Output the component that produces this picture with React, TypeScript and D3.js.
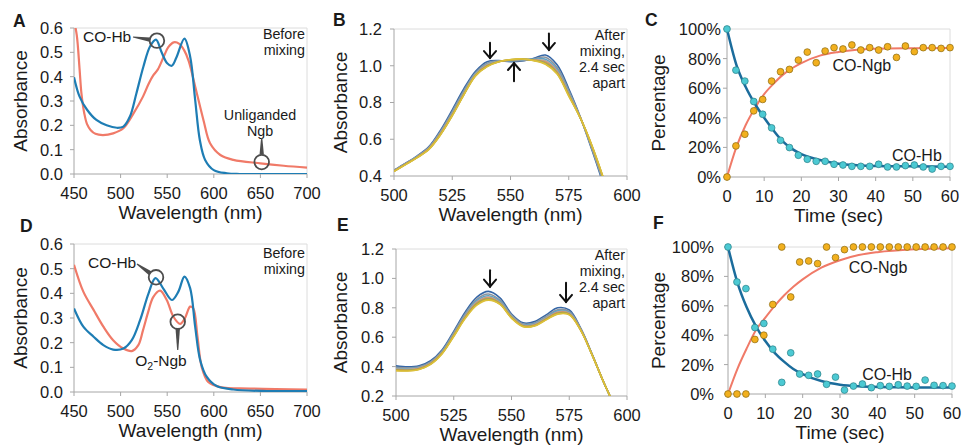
import React from "react";
import * as d3 from "d3";

// ---- A: spectra before mixing (CO-Hb vs unliganded Ngb)
const coHbA_nm = [450, 456, 464, 474, 485, 496, 503, 510, 517, 524.5, 531.7, 538, 544, 550, 555, 560, 568.5, 574.6, 580, 585, 590.7, 600, 614, 628, 700];
const coHbA_abs = [0.398, 0.318, 0.264, 0.222, 0.2, 0.19, 0.195, 0.236, 0.332, 0.442, 0.525, 0.552, 0.5, 0.455, 0.445, 0.48, 0.556, 0.483, 0.305, 0.14, 0.058, 0.016, 0.003, 0.0, 0.0];
const ngbA_nm = [450, 453, 456, 458, 461, 464, 468, 473, 481, 492, 503, 514, 524, 530, 535, 540, 546, 551, 557, 563, 568, 573, 580, 589, 596, 607, 621, 650, 675, 700];
const ngbA_abs = [0.63, 0.57, 0.43, 0.33, 0.25, 0.205, 0.18, 0.165, 0.16, 0.167, 0.188, 0.25, 0.318, 0.37, 0.405, 0.43, 0.48, 0.52, 0.541, 0.535, 0.51, 0.465, 0.36, 0.22, 0.126, 0.078, 0.058, 0.044, 0.034, 0.026];

// ---- D: spectra before mixing (CO-Hb vs O2-Ngb)
const coHbD_nm = [450, 460, 471, 481.5, 492, 503, 512, 521, 530, 537.4, 546, 555, 562, 568.5, 574.6, 580, 585.4, 592.5, 603, 621, 657, 700];
const coHbD_abs = [0.339, 0.265, 0.224, 0.19, 0.172, 0.176, 0.21, 0.292, 0.4, 0.462, 0.418, 0.373, 0.407, 0.468, 0.421, 0.265, 0.129, 0.061, 0.024, 0.01, 0.004, 0.004];
const o2NgbD_nm = [450, 460, 471, 481.5, 492, 503, 512, 519, 524, 530, 535, 542.4, 549.5, 556.7, 563.9, 569, 574.6, 578, 582.5, 587, 594, 607, 639, 700];
const o2NgbD_abs = [0.516, 0.407, 0.333, 0.265, 0.21, 0.176, 0.166, 0.19, 0.25, 0.33, 0.385, 0.411, 0.373, 0.305, 0.276, 0.299, 0.346, 0.339, 0.224, 0.102, 0.041, 0.02, 0.014, 0.01];

// ---- B: spectra after mixing (CO-Hb + unliganded Ngb), 2.4 s apart
const nmB = [500, 505, 510, 515, 520, 525, 530, 535, 540, 545, 550, 555, 560, 565, 570, 575, 580, 585, 590];
const specB = [
  [0.432, 0.47, 0.51, 0.56, 0.65, 0.76, 0.875, 0.97, 1.022, 1.028, 1.022, 1.026, 1.04, 1.058, 1.005, 0.875, 0.72, 0.54, 0.35],
  [0.43, 0.468, 0.508, 0.556, 0.643, 0.75, 0.865, 0.962, 1.014, 1.026, 1.026, 1.029, 1.037, 1.046, 0.99, 0.865, 0.718, 0.546, 0.36],
  [0.429, 0.467, 0.506, 0.553, 0.638, 0.743, 0.858, 0.957, 1.009, 1.025, 1.028, 1.032, 1.035, 1.036, 0.98, 0.857, 0.717, 0.551, 0.367],
  [0.428, 0.466, 0.504, 0.551, 0.634, 0.738, 0.852, 0.953, 1.005, 1.024, 1.03, 1.034, 1.033, 1.027, 0.972, 0.85, 0.716, 0.555, 0.372],
  [0.427, 0.465, 0.503, 0.549, 0.631, 0.734, 0.848, 0.95, 1.001, 1.023, 1.031, 1.035, 1.031, 1.02, 0.966, 0.845, 0.716, 0.558, 0.377],
  [0.426, 0.464, 0.502, 0.547, 0.628, 0.731, 0.845, 0.948, 0.999, 1.023, 1.032, 1.036, 1.03, 1.015, 0.961, 0.841, 0.715, 0.561, 0.38],
  [0.425, 0.463, 0.501, 0.546, 0.626, 0.729, 0.843, 0.946, 0.997, 1.022, 1.033, 1.037, 1.029, 1.011, 0.958, 0.838, 0.715, 0.563, 0.383],
  [0.425, 0.462, 0.5, 0.545, 0.625, 0.728, 0.842, 0.945, 0.995, 1.022, 1.034, 1.037, 1.028, 1.008, 0.955, 0.835, 0.715, 0.565, 0.385],
];

// ---- E: spectra after mixing (CO-Hb + O2-Ngb), 2.4 s apart
const nmE = [500, 505, 510, 515, 520, 525, 530, 535, 540, 545, 550, 555, 560, 565, 570, 575, 580, 585, 590, 595];
const specE = [
  [0.405, 0.398, 0.405, 0.44, 0.515, 0.64, 0.772, 0.873, 0.912, 0.868, 0.758, 0.698, 0.706, 0.752, 0.8, 0.785, 0.66, 0.48, 0.29, 0.12],
  [0.395, 0.39, 0.398, 0.432, 0.507, 0.63, 0.76, 0.858, 0.894, 0.852, 0.75, 0.69, 0.697, 0.742, 0.787, 0.775, 0.656, 0.479, 0.29, 0.12],
  [0.389, 0.385, 0.393, 0.427, 0.501, 0.623, 0.752, 0.848, 0.882, 0.843, 0.745, 0.685, 0.692, 0.735, 0.779, 0.769, 0.653, 0.478, 0.29, 0.12],
  [0.384, 0.381, 0.39, 0.424, 0.497, 0.618, 0.745, 0.84, 0.873, 0.836, 0.74, 0.681, 0.687, 0.73, 0.772, 0.764, 0.651, 0.477, 0.29, 0.12],
  [0.38, 0.377, 0.387, 0.421, 0.494, 0.614, 0.74, 0.833, 0.866, 0.832, 0.737, 0.678, 0.683, 0.726, 0.767, 0.76, 0.649, 0.477, 0.29, 0.12],
  [0.377, 0.375, 0.384, 0.419, 0.492, 0.611, 0.736, 0.828, 0.861, 0.828, 0.735, 0.676, 0.68, 0.723, 0.763, 0.757, 0.648, 0.476, 0.29, 0.12],
  [0.374, 0.372, 0.382, 0.417, 0.49, 0.608, 0.732, 0.823, 0.856, 0.825, 0.732, 0.674, 0.678, 0.72, 0.76, 0.754, 0.646, 0.476, 0.29, 0.12],
  [0.372, 0.37, 0.38, 0.415, 0.488, 0.605, 0.728, 0.818, 0.852, 0.823, 0.73, 0.672, 0.676, 0.718, 0.757, 0.752, 0.645, 0.475, 0.29, 0.12],
];
const specColors = ["#3566a6", "#8c939c", "#5fa3c7", "#b0a9a0", "#e4875a", "#8fae6a", "#c4a22c", "#dcc03a"];

// ---- C / F: kinetics (percentage vs time)
const timeSec = [0, 2.4, 4.8, 7.2, 9.6, 12, 14.4, 16.8, 19.2, 21.6, 24, 26.4, 28.8, 31.2, 33.6, 36, 38.4, 40.8, 43.2, 45.6, 48, 50.4, 52.8, 55.2, 57.6, 60];
const coHbC = [100, 72.2, 64.8, 51, 42.4, 33.2, 24.8, 19.9, 14.7, 12, 10.6, 10.6, 8.6, 8.1, 7.2, 7.2, 7.2, 8.6, 6.8, 6.8, 7.7, 8.1, 6.8, 5.4, 7.2, 7.2];
const coNgbC = [0, 21, 28.9, 44.7, 52.4, 64.8, 71.1, 72.7, 79, 84.4, 77.2, 85.1, 87.4, 86.5, 89.2, 85.8, 87.4, 85.8, 88, 80.8, 88.5, 84.7, 87.4, 87.4, 86.9, 87.4];
const coHbF = [100, 76.2, 71.7, 45.2, 48, 30.5, 7.9, 28, 13.6, 12.7, 13.6, 6.6, 11.5, 2.7, 5.4, 6.8, 4.3, 5.7, 5.2, 6.3, 5.4, 5.2, 9.5, 5.9, 5.7, 5.4];
const coNgbF = [0, 0, 0, 37.1, 40, 60.9, 100, 66, 89.8, 90.5, 88.7, 100, 92.8, 98.2, 100, 100, 100, 100, 100, 100, 100, 100, 100, 100, 100, 100];

const fitTime = [0, 2.5, 5, 7.5, 10, 12.5, 15, 17.5, 20, 25, 30, 35, 40, 50, 60];
const fitHbC = [100, 76, 61, 49.5, 40, 31.5, 24, 19, 15.5, 11.5, 9, 8, 7.5, 7.2, 7];
const fitNgbC = [0, 20, 35, 46.5, 56, 63, 69, 73.5, 77, 82, 84.5, 86, 86.6, 87, 87.2];
const fitHbF = [100, 76, 59, 46, 36, 28, 22, 17, 13.5, 8.8, 6.3, 5.2, 4.8, 4.5, 4.5];
const fitNgbF = [0, 17, 31, 43.5, 52, 60, 67, 73, 78, 86, 91, 94.5, 96.5, 98.5, 99.2];

const nmTicksWide = [450, 500, 550, 600, 650, 700];
const nmTicksNarrow = [500, 525, 550, 575, 600];
const absTicksAD = [0, 0.1, 0.2, 0.3, 0.4, 0.5, 0.6];
const absTicksB = [0.4, 0.6, 0.8, 1.0, 1.2];
const absTicksE = [0.2, 0.4, 0.6, 0.8, 1.0, 1.2];
const timeTicks = [0, 10, 20, 30, 40, 50, 60];
const pctTicks = [0, 20, 40, 60, 80, 100];

const FONT = "'Liberation Sans', Arial, Helvetica, sans-serif";
const AXIS = "#a6a6a6";
const FRAME = "#dcdcdc";
const TXT = "#1a1a1a";
const BLUE = "#1e7db4";
const RED = "#f07a68";
const FIT_BLUE = "#1b6c9c";
const CALLOUT = "#4d4d4d";

type Lin = d3.ScaleLinear<number, number>;

const zip = (xs: number[], ys: number[]) => xs.map((v, i) => [v, ys[i]] as [number, number]);

function Axes(p: {
  x: Lin; y: Lin; xTicks: number[]; yTicks: number[];
  xFmt: (v: number) => string; yFmt: (v: number) => string;
  xTitle: string; yTitle: string; yTitleX: number; yGap: number;
  letter: string; letterX: number; letterY: number;
}) {
  const { x, y } = p;
  const [l, r] = x.range();
  const [b, t] = y.range();
  return (
    <g fontFamily={FONT} fill={TXT}>
      <line x1={l} x2={r} y1={t} y2={t} stroke={FRAME} />
      <line x1={r} x2={r} y1={t} y2={b} stroke={FRAME} />
      <line x1={l} x2={r} y1={b} y2={b} stroke={AXIS} />
      <line x1={l} x2={l} y1={t} y2={b} stroke={AXIS} />
      {p.xTicks.map((v) => (
        <g key={"x" + v}>
          <line x1={x(v)} x2={x(v)} y1={b} y2={b + 4} stroke={AXIS} />
          <text x={x(v)} y={b + 25} textAnchor="middle" fontSize={16.5}>{p.xFmt(v)}</text>
        </g>
      ))}
      {p.yTicks.map((v) => (
        <g key={"y" + v}>
          <line x1={l - 4} x2={l} y1={y(v)} y2={y(v)} stroke={AXIS} />
          <text x={l - p.yGap} y={y(v)} dy="0.36em" textAnchor="end" fontSize={16.5}>{p.yFmt(v)}</text>
        </g>
      ))}
      <text x={(l + r) / 2} y={b + 45} textAnchor="middle" fontSize={19}>{p.xTitle}</text>
      <text transform={`translate(${p.yTitleX},${(t + b) / 2}) rotate(-90)`} textAnchor="middle" dy="0.36em" fontSize={19}>{p.yTitle}</text>
      <text x={p.letterX} y={p.letterY} fontWeight="bold" fontSize={17.5}>{p.letter}</text>
    </g>
  );
}

// circle marker with a tapered leader from (x1, y1)
function Callout({ cx, cy, x1, y1, r = 7.3 }: { cx: number; cy: number; x1: number; y1: number; r?: number }) {
  const dx = cx - x1, dy = cy - y1;
  const len = Math.hypot(dx, dy);
  const ux = dx / len, uy = dy / len;
  const ex = cx - ux * r, ey = cy - uy * r;
  const nx = -uy, ny = ux;
  const w0 = 0.6, w1 = 2.2;
  const pts = [
    [x1 + nx * w0, y1 + ny * w0], [ex + nx * w1, ey + ny * w1],
    [ex - nx * w1, ey - ny * w1], [x1 - nx * w0, y1 - ny * w0],
  ].map((q) => q.join(",")).join(" ");
  return (
    <g>
      <polygon points={pts} fill={CALLOUT} />
      <circle cx={cx} cy={cy} r={r} fill="none" stroke={CALLOUT} strokeWidth={1.8} />
    </g>
  );
}

function Arrow({ x, y1, y2 }: { x: number; y1: number; y2: number }) {
  const dir = y2 > y1 ? 1 : -1;
  return (
    <g stroke="#111" strokeWidth={2} fill="none" strokeLinecap="round" strokeLinejoin="miter">
      <line x1={x} x2={x} y1={y1} y2={y2} />
      <polyline points={`${x - 6},${y2 - dir * 7} ${x},${y2} ${x + 6},${y2 - dir * 7}`} />
    </g>
  );
}

// stacked lines as separate text elements
function Lines({ x, y, lines, size = 14.3, lh = 16, anchor = "end" }: { x: number; y: number; lines: string[]; size?: number; lh?: number; anchor?: string }) {
  return (
    <g fontFamily={FONT} fontSize={size} fill={TXT} textAnchor={anchor}>
      {lines.map((s, i) => (
        <text key={i} x={x} y={y + i * lh}>{s}</text>
      ))}
    </g>
  );
}

const fmt1 = d3.format(".1f");
const fmtInt = (v: number) => String(v);
const fmtPct = (v: number) => v + "%";

function spectrumLine(x: Lin, y: Lin) {
  return d3.line<[number, number]>().x((d) => x(d[0])).y((d) => y(d[1])).curve(d3.curveCatmullRom.alpha(0.5));
}

function BeforePanel(p: {
  id: string; top: number; bottom: number; letterX: number; letterY: number; letter: string;
  hbNm: number[]; hbAbs: number[]; ngbNm: number[]; ngbAbs: number[];
  render: (x: Lin, y: Lin) => React.ReactNode;
}) {
  const x = d3.scaleLinear().domain([450, 700]).range([74, 307]);
  const y = d3.scaleLinear().domain([0, 0.6]).range([p.bottom, p.top]);
  const line = spectrumLine(x, y);
  return (
    <g>
      <defs>
        <clipPath id={p.id}>
          <rect x={74} y={p.top} width={233} height={p.bottom - p.top} />
        </clipPath>
      </defs>
      <Axes x={x} y={y} xTicks={nmTicksWide} yTicks={absTicksAD} xFmt={fmtInt} yFmt={fmt1}
        xTitle="Wavelength (nm)" yTitle="Absorbance" yTitleX={20} yGap={11}
        letter={p.letter} letterX={p.letterX} letterY={p.letterY} />
      <g clipPath={`url(#${p.id})`} fill="none" strokeWidth={2.2}>
        <path d={line(zip(p.ngbNm, p.ngbAbs)) || ""} stroke={RED} />
        <path d={line(zip(p.hbNm, p.hbAbs)) || ""} stroke={BLUE} />
      </g>
      {p.render(x, y)}
    </g>
  );
}

function AfterPanel(p: {
  id: string; left: number; top: number; bottom: number; yMin: number; yTicks: number[];
  nm: number[]; spectra: number[][]; letter: string; letterX: number; letterY: number;
  render: (x: Lin, y: Lin) => React.ReactNode;
}) {
  const x = d3.scaleLinear().domain([500, 600]).range([p.left, 627]);
  const y = d3.scaleLinear().domain([p.yMin, 1.2]).range([p.bottom, p.top]);
  const line = spectrumLine(x, y);
  return (
    <g>
      <defs>
        <clipPath id={p.id}>
          <rect x={p.left} y={p.top} width={627 - p.left} height={p.bottom - p.top} />
        </clipPath>
      </defs>
      <Axes x={x} y={y} xTicks={nmTicksNarrow} yTicks={p.yTicks} xFmt={fmtInt} yFmt={fmt1}
        xTitle="Wavelength (nm)" yTitle="Absorbance" yTitleX={340} yGap={12}
        letter={p.letter} letterX={p.letterX} letterY={p.letterY} />
      <g clipPath={`url(#${p.id})`} fill="none" strokeWidth={1.6}>
        {p.spectra.map((s, i) => (
          <path key={i} d={line(zip(p.nm, s)) || ""} stroke={specColors[i]} />
        ))}
      </g>
      {p.render(x, y)}
    </g>
  );
}

function KineticsPanel(p: {
  left: number; right: number; top: number; bottom: number; yGap: number;
  hb: number[]; ngb: number[]; fitHb: number[]; fitNgb: number[];
  letter: string; letterX: number; letterY: number;
  ngbLabel: [number, number]; hbLabel: [number, number];
}) {
  const x = d3.scaleLinear().domain([0, 60]).range([p.left, p.right]);
  const y = d3.scaleLinear().domain([0, 100]).range([p.bottom, p.top]);
  const fit = d3.line<[number, number]>().x((d) => x(d[0])).y((d) => y(d[1])).curve(d3.curveMonotoneX);
  return (
    <g>
      <Axes x={x} y={y} xTicks={timeTicks} yTicks={pctTicks} xFmt={fmtInt} yFmt={fmtPct}
        xTitle="Time (sec)" yTitle="Percentage" yTitleX={658} yGap={p.yGap}
        letter={p.letter} letterX={p.letterX} letterY={p.letterY} />
      <path d={fit(zip(fitTime, p.fitNgb)) || ""} fill="none" stroke={RED} strokeWidth={2} />
      <path d={fit(zip(fitTime, p.fitHb)) || ""} fill="none" stroke={FIT_BLUE} strokeWidth={2.5} />
      {timeSec.map((t, i) => (
        <circle key={"n" + i} cx={x(t)} cy={y(p.ngb[i])} r={3.4} fill="#f2b01e" stroke="#8a6a14" strokeWidth={0.7} />
      ))}
      {timeSec.map((t, i) => (
        <circle key={"h" + i} cx={x(t)} cy={y(p.hb[i])} r={3.4} fill="#4cc9d3" stroke="#2b7f86" strokeWidth={0.7} />
      ))}
      <text x={x(p.ngbLabel[0])} y={y(p.ngbLabel[1])} dy="0.36em" textAnchor="middle" fontFamily={FONT} fontSize={16} fill={TXT}>CO-Ngb</text>
      <text x={x(p.hbLabel[0])} y={y(p.hbLabel[1])} dy="0.36em" textAnchor="middle" fontFamily={FONT} fontSize={16} fill={TXT}>CO-Hb</text>
    </g>
  );
}

export default function App() {
  return (
    <svg width={963} height={447} style={{ position: "absolute", left: 0, top: 0, background: "#fff" }}>
      <rect width={963} height={447} fill="#fff" />

      <BeforePanel id="clipA" top={28} bottom={174} letter="A" letterX={13} letterY={27}
        hbNm={coHbA_nm} hbAbs={coHbA_abs} ngbNm={ngbA_nm} ngbAbs={ngbA_abs}
        render={(x, y) => (
          <g>
            <text x={83} y={36} dy="0.36em" fontFamily={FONT} fontSize={15.5} fill={TXT}>CO-Hb</text>
            <Callout cx={x(539)} cy={y(0.548)} x1={133} y1={37} />
            <Lines x={305} y={39} lines={["Before", "mixing"]} />
            <Lines x={260} y={120} lines={["Unliganded", "Ngb"]} anchor="middle" />
            <Callout cx={x(651.4)} cy={y(0.049)} x1={x(651.4)} y1={138} />
          </g>
        )} />

      <BeforePanel id="clipD" top={244} bottom={392} letter="D" letterX={20} letterY={232}
        hbNm={coHbD_nm} hbAbs={coHbD_abs} ngbNm={o2NgbD_nm} ngbAbs={o2NgbD_abs}
        render={(x, y) => (
          <g>
            <text x={88} y={262} dy="0.36em" fontFamily={FONT} fontSize={15.5} fill={TXT}>CO-Hb</text>
            <Callout cx={x(538)} cy={y(0.465)} x1={137} y1={264} />
            <Lines x={305} y={258} lines={["Before", "mixing"]} />
            <text x={161} y={360} dy="0.36em" textAnchor="middle" fontFamily={FONT} fontSize={15.5} fill={TXT}>
              O<tspan fontSize={10.5} dy="4">2</tspan><tspan dy="-4">-Ngb</tspan>
            </text>
            <Callout cx={x(561.3)} cy={y(0.285)} x1={x(561.3)} y1={350} />
          </g>
        )} />

      <AfterPanel id="clipB" left={394} top={29} bottom={176} yMin={0.4} yTicks={absTicksB}
        nm={nmB} spectra={specB} letter="B" letterX={333} letterY={26}
        render={(x, y) => (
          <g>
            <Arrow x={x(541.2)} y1={y(1.125)} y2={y(1.042)} />
            <Arrow x={x(566.5)} y1={y(1.175)} y2={y(1.086)} />
            <Arrow x={x(551.5)} y1={y(0.915)} y2={y(1.015)} />
            <Lines x={625} y={40} lines={["After", "mixing,", "2.4 sec", "apart"]} />
          </g>
        )} />

      <AfterPanel id="clipE" left={396} top={249} bottom={396} yMin={0.2} yTicks={absTicksE}
        nm={nmE} spectra={specE} letter="E" letterX={337} letterY={231}
        render={(x, y) => (
          <g>
            <Arrow x={x(540.7)} y1={y(1.055)} y2={y(0.944)} />
            <Arrow x={x(573.6)} y1={y(0.97)} y2={y(0.84)} />
            <Lines x={625} y={259.5} lines={["After", "mixing,", "2.4 sec", "apart"]} />
          </g>
        )} />

      <KineticsPanel left={727} right={950} top={29} bottom={177} yGap={6}
        hb={coHbC} ngb={coNgbC} fitHb={fitHbC} fitNgb={fitNgbC}
        letter="C" letterX={645} letterY={26} ngbLabel={[36.3, 75.7]} hbLabel={[51.1, 14.9]} />

      <KineticsPanel left={728} right={952} top={247} bottom={394} yGap={14}
        hb={coHbF} ngb={coNgbF} fitHb={fitHbF} fitNgb={fitNgbF}
        letter="F" letterX={653} letterY={229} ngbLabel={[40.2, 86.4]} hbLabel={[42.6, 13.6]} />
    </svg>
  );
}
